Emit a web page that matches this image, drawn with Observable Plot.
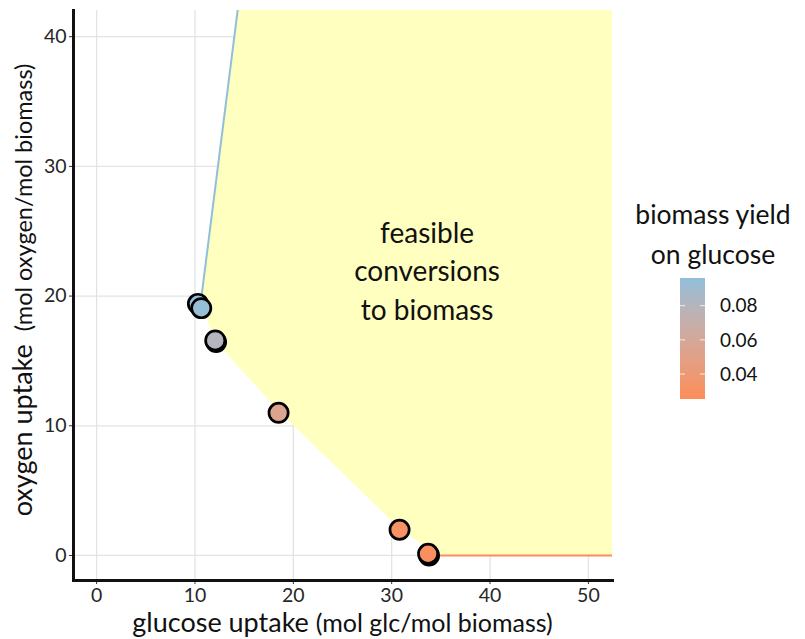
<!DOCTYPE html>
<html>
<head>
<meta charset="utf-8">
<script src="https://cdn.jsdelivr.net/npm/d3@7"></script>
<script src="https://cdn.jsdelivr.net/npm/@observablehq/plot@0.6"></script>
<style>
  html, body { margin: 0; padding: 0; background: white; }
</style>
</head>
<body>
<div id="chart"></div>
<script>
// ---- data ----
const glucose = [10.3, 10.64, 12.15, 12.06, 18.5, 30.8, 33.8, 33.7];
const oxygen  = [19.4, 19.07, 16.45, 16.58, 11.0, 1.98, 0.0, 0.13];
const yieldOnGlucose = [0.0962, 0.094, 0.080, 0.080, 0.055, 0.031, 0.0254, 0.028];

// lower-left boundary of the feasible region
const edgeGlucose = [34.7, 30.9, 18.7, 12.2, 11.0, 10.67, 15.0];
const edgeOxygen  = [0.0, 2.0, 11.0, 16.4, 18.6, 20.0, 46.0];
// upper boundary line (blue) and lower boundary line (orange)
const upperLineGlucose = [10.67, 15.0];
const upperLineOxygen  = [20.0, 46.0];
const lowerLineGlucose = [34.7, 60];
const lowerLineOxygen  = [0, 0];

const xTicks = [0, 10, 20, 30, 40, 50];
const yTicks = [0, 10, 20, 30, 40];
const legendTicks = [0.04, 0.06, 0.08];

const regionLabel = "feasible\nconversions\nto biomass";
const regionLabelPos = {x: 33.6, y: 22.1};

// ---- build tables ----
const points = glucose.map((g, i) => ({g, o: oxygen[i], yld: yieldOnGlucose[i]}));
const edge = edgeGlucose.map((g, i) => ({g, o: edgeOxygen[i]}));
const upperLine = upperLineGlucose.map((g, i) => ({g, o: upperLineOxygen[i]}));
const lowerLine = lowerLineGlucose.map((g, i) => ({g, o: lowerLineOxygen[i]}));

const xDomain = [-2.35, 52.45];
const yDomain = [-1.93, 42.02];
const font = "Lato, 'Open Sans', sans-serif";
const blue = "#91bfdb", orange = "#fc8d59";
const yDom = d3.extent(yieldOnGlucose);

const plot = Plot.plot({
  width: 805,
  height: 639,
  marginLeft: 73,
  marginRight: 193,
  marginTop: 10,
  marginBottom: 59,
  style: {fontFamily: font, fontSize: "19px", background: "white", color: "#222"},
  x: {domain: xDomain, label: null},
  y: {domain: yDomain, label: null},
  color: {type: "linear", domain: yDom, range: [orange, blue], interpolate: d3.interpolateLab},
  marks: [
    Plot.gridX(xTicks, {stroke: "#e3e3e3", strokeOpacity: 1, strokeWidth: 1.3}),
    Plot.gridY(yTicks, {stroke: "#e3e3e3", strokeOpacity: 1, strokeWidth: 1.3}),
    Plot.areaX(edge, {y: "o", x1: "g", x2: () => 60, fill: "#ffffbf", clip: true}),
    Plot.line(upperLine, {x: "g", y: "o", stroke: blue, strokeWidth: 2, clip: true}),
    Plot.line(lowerLine, {x: "g", y: "o", stroke: orange, strokeWidth: 2, clip: true}),
    Plot.axisX({ticks: xTicks, tickSize: 4, tickPadding: 4, fontSize: 19.5, stroke: "#333", fill: "#262626"}),
    Plot.axisY({ticks: yTicks, tickSize: 4, tickPadding: 3, fontSize: 19.5, stroke: "#333", fill: "#262626"}),
    Plot.frame({anchor: "left", stroke: "#111", strokeWidth: 3}),
    Plot.frame({anchor: "bottom", stroke: "#111", strokeWidth: 3}),
    Plot.dot(points, {x: "g", y: "o", fill: "yld", r: 9.6, stroke: "black", strokeWidth: 2.7}),
    Plot.text([regionLabelPos], {x: "x", y: "y", text: () => regionLabel, fontSize: 28, lineHeight: 1.38, fill: "#111"})
  ]
});

document.getElementById("chart").appendChild(plot);

// ---- axis titles & colorbar legend ----
const svg = d3.select(plot);
const xt = svg.append("text")
  .attr("x", 342.5).attr("y", 632)
  .attr("text-anchor", "middle")
  .attr("fill", "#111")
  .style("font-family", font);
xt.append("tspan").attr("font-size", 27).text("glucose uptake ");
xt.append("tspan").attr("font-size", 25).text("(mol glc/mol biomass)");

const yt = svg.append("text")
  .attr("transform", "translate(32,290) rotate(-90)")
  .attr("text-anchor", "middle")
  .attr("fill", "#111")
  .style("font-family", font);
yt.append("tspan").attr("font-size", 27).text("oxygen uptake ");
yt.append("tspan").attr("font-size", 23.5).text(" (mol oxygen/mol biomass)");

const color = plot.scale("color");
const colorFn = d3.scaleLinear().domain(color.domain).range(color.range).interpolate(d3.interpolateLab);
const barX = 680, barW = 25, barTop = 278, barBottom = 399;
const barY = d3.scaleLinear().domain(color.domain).range([barBottom, barTop]);

const defs = svg.append("defs");
const grad = defs.append("linearGradient").attr("id", "cbar")
  .attr("x1", 0).attr("y1", 1).attr("x2", 0).attr("y2", 0);
d3.range(0, 1.0001, 0.05).forEach(t => {
  grad.append("stop").attr("offset", t)
    .attr("stop-color", colorFn(color.domain[0] + t * (color.domain[1] - color.domain[0])));
});
const leg = svg.append("g").style("font-family", font);
const lt = leg.append("text").attr("text-anchor", "middle").attr("fill", "#111").attr("font-size", 26.5);
lt.append("tspan").attr("x", 713).attr("y", 224).text("biomass yield");
lt.append("tspan").attr("x", 713).attr("y", 264).text("on glucose");
leg.append("rect").attr("x", barX).attr("y", barTop).attr("width", barW).attr("height", barBottom - barTop)
  .attr("fill", "url(#cbar)");
legendTicks.forEach(v => {
  const y = barY(v);
  leg.append("line").attr("x1", barX).attr("x2", barX + 5).attr("y1", y).attr("y2", y)
    .attr("stroke", "white").attr("stroke-opacity", 0.8).attr("stroke-width", 1);
  leg.append("line").attr("x1", barX + barW - 5).attr("x2", barX + barW).attr("y1", y).attr("y2", y)
    .attr("stroke", "white").attr("stroke-opacity", 0.8).attr("stroke-width", 1);
  leg.append("text").attr("x", 720).attr("y", y).attr("dy", "0.35em")
    .attr("text-anchor", "start")
    .attr("font-size", 19).attr("fill", "#111").text(d3.format(".2f")(v));
});
</script>
</body>
</html>
